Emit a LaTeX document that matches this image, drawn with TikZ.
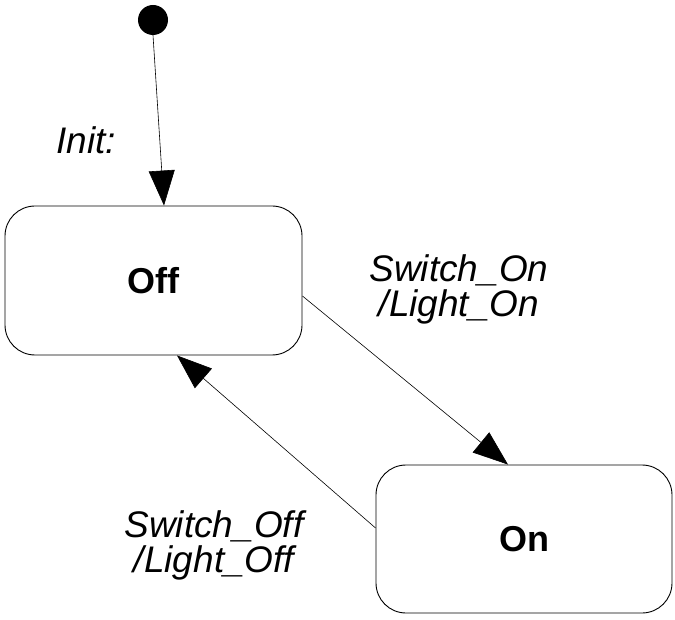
\documentclass[tikz,border=0pt]{standalone}
\usepackage{fontspec}
\setmainfont{Liberation Sans}
\usetikzlibrary{arrows.meta}
\begin{document}
\begin{tikzpicture}[x=1pt,y=-1pt,
  state/.style={draw=black,line width=0.9pt,rounded corners=30pt,inner sep=0pt,font=\fontsize{36}{36}\selectfont\bfseries},
  lbl/.style={font=\fontsize{37}{35}\selectfont\itshape,inner sep=0pt,align=center},
  trans/.style={line width=0.6pt,-{Triangle[length=35pt,width=26pt]}}]
\useasboundingbox (0,0) rectangle (675,620);
\node[circle,fill=black,minimum size=30pt,inner sep=0pt] (init) at (153,20) {};
\node[state,minimum width=297pt,minimum height=149pt] (off) at (153.5,280.5) {Off};
\node[state,minimum width=296pt,minimum height=148pt] (on) at (524,539) {On};
\draw[trans] (init.south) -- ([xshift=10.5pt]off.north);
\draw[trans] ([yshift=-15.5pt]off.east) -- ([xshift=-16pt]on.north);
\draw[trans] ([yshift=11pt]on.west) -- ([xshift=23.5pt]off.south);
\node[lbl,anchor=base west] (linit) at (56,154) {Init:};
\node[lbl] (lon) at (459,289) {Switch\_On\\/Light\_On};
\node[lbl] (loff) at (214,545) {Switch\_Off\\/Light\_Off};
\end{tikzpicture}
\end{document}
